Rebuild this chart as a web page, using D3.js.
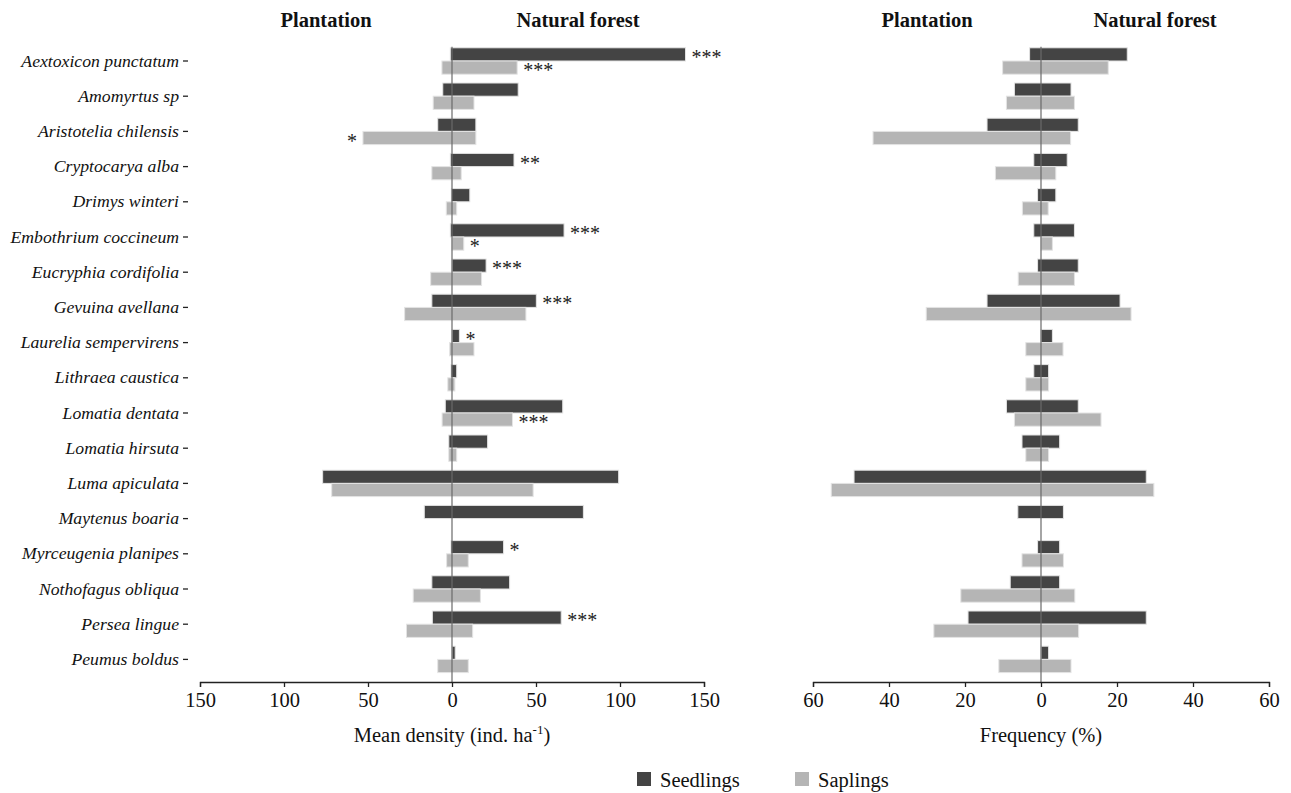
<!DOCTYPE html>
<html><head><meta charset="utf-8">
<script src="https://cdn.jsdelivr.net/npm/d3@7"></script>
<style>body{margin:0;background:#fff}svg{display:block}text{font-family:"Liberation Serif","Times New Roman",serif;fill:#111}</style>
</head><body>
<svg id="c" width="1291" height="793"></svg>
<script>
const categories = ["Aextoxicon punctatum","Amomyrtus sp","Aristotelia chilensis","Cryptocarya alba","Drimys winteri","Embothrium coccineum","Eucryphia cordifolia","Gevuina avellana","Laurelia sempervirens","Lithraea caustica","Lomatia dentata","Lomatia hirsuta","Luma apiculata","Maytenus boaria","Myrceugenia planipes","Nothofagus obliqua","Persea lingue","Peumus boldus"];
const series = ["Seedlings","Saplings"];
// Mean density (ind. ha-1)
const densSeedPlant = [1,5.5,8.5,1,0.4,1,0,12,0,0.6,4,1.9,77,16.5,0.6,12,11.7,0];
const densSeedNat   = [139,39.4,14.2,36.9,10.6,66.7,20.3,50.2,4.4,2.8,65.9,21.2,99.2,78.2,30.7,34.3,65,1.9];
const densSapPlant  = [6,11.2,53,12,3.4,0,12.7,28.2,1.5,2.5,5.9,1.9,71.6,0,3.2,23.1,27.1,8.5];
const densSapNat    = [38.8,13.1,14.2,5.5,2.8,7,17.6,44,13.1,1.7,36,2.8,48.3,0,9.7,16.9,12.3,9.7];
// Frequency (%)
const freqSeedPlant = [3,7,14.2,1.9,0.9,1.9,0.9,14.2,0,1.9,9.1,5,49.2,6.1,0.9,8.1,19.2,0];
const freqSeedNat   = [22.7,7.9,9.8,6.9,3.9,8.8,9.8,20.8,3,2,9.8,4.9,27.7,5.9,4.9,4.9,27.7,2];
const freqSapPlant  = [10.1,9.1,44.2,12,4.9,0,6,30.2,4,4,7,4,55.2,0,5,21.1,28.2,11.1];
const freqSapNat    = [17.7,8.8,7.8,3.9,1.9,3,8.8,23.7,5.8,2,15.8,2,29.7,0,5.9,8.9,9.9,7.9];
// significance marks (density panel)
const sigSeed = ["***","","","**","","***","***","***","*","","","","","","*","","***",""];
const sigSap  = ["***","","*","","","*","","","","","***","","","","","","",""];
const densTicks = [-150,-100,-50,0,50,100,150];
const freqTicks = [-60,-40,-20,0,20,40,60];

const colors = {Seedlings:"#444444", Saplings:"#b5b5b5"};
const svg = d3.select("#c");

const y = d3.scaleBand().domain(categories).range([43.4, 677]).paddingInner(0.25).paddingOuter(0.125);
const ySub = d3.scaleBand().domain(series).range([0, y.bandwidth()]);
const axisY = 682;

function panel(x, ticks, seedP, seedN, sapP, sapN, headers, sig) {
  const g = svg.append("g");
  const rows = [];
  categories.forEach((c,i)=>{
    rows.push({c, s:"Seedlings", p:seedP[i], n:seedN[i], sig: sig ? sig.seed[i] : ""});
    rows.push({c, s:"Saplings", p:sapP[i], n:sapN[i], sig: sig ? sig.sap[i] : ""});
  });
  const shown = rows.filter(r => r.p + r.n > 0);
  g.selectAll("rect.bar").data(shown).join("rect")
    .attr("x", r => x(-r.p))
    .attr("width", r => x(r.n) - x(-r.p))
    .attr("y", r => y(r.c) + ySub(r.s))
    .attr("height", ySub.bandwidth())
    .attr("fill", r => colors[r.s])
    .attr("stroke", "#e4e4e4").attr("stroke-width", 1);
  g.append("line").attr("x1", x(0)).attr("x2", x(0))
    .attr("y1", y(categories[0]) - 1).attr("y2", axisY)
    .attr("stroke", "#6a6a6a").attr("stroke-width", 1.2);
  g.selectAll("text.sig").data(shown.filter(r => r.sig)).join("text")
    .attr("class","sig")
    .attr("x", r => r.p > r.n ? x(-r.p) - 6 : x(r.n) + 6)
    .attr("text-anchor", r => r.p > r.n ? "end" : "start")
    .attr("y", r => y(r.c) + ySub(r.s) + ySub.bandwidth()/2 + 9.5)
    .style("font-size","20px").style("fill","#222")
    .text(r => r.sig);
  const ax = g.append("g").attr("transform", `translate(0,${axisY})`)
    .call(d3.axisBottom(x).tickValues(ticks).tickSizeOuter(0).tickSize(5).tickPadding(5).tickFormat(d => Math.abs(d)));
  ax.select(".domain").attr("stroke","#222").attr("stroke-width",1.3);
  ax.selectAll(".tick line").attr("stroke","#222").attr("stroke-width",1.3);
  ax.selectAll(".tick text").style("font-size","20.5px").style("font-family","Liberation Serif").attr("fill","#111");
  headers.forEach(h => {
    g.append("text").attr("x", x(h.v)).attr("y", 26.5).attr("text-anchor","middle")
      .style("font-size","20.5px").style("font-weight","bold").text(h.t);
  });
  return g;
}

const xd = d3.scaleLinear().domain([-150,150]).range([200, 704]);
panel(xd, densTicks, densSeedPlant, densSeedNat, densSapPlant, densSapNat,
  [{t:"Plantation", v:-75},{t:"Natural forest", v:75}], {seed:sigSeed, sap:sigSap});
const xf = d3.scaleLinear().domain([-60,60]).range([813, 1269]);
panel(xf, freqTicks, freqSeedPlant, freqSeedNat, freqSapPlant, freqSapNat,
  [{t:"Plantation", v:-30},{t:"Natural forest", v:30}], null);

const yAxisG = svg.append("g").attr("transform","translate(188,0)")
  .call(d3.axisLeft(y).tickSize(5).tickPadding(4));
yAxisG.select(".domain").remove();
yAxisG.selectAll(".tick line").attr("stroke","#222").attr("stroke-width",1.3);
yAxisG.selectAll(".tick text").style("font-size","17.7px").style("font-style","italic").style("font-family","Liberation Serif").attr("fill","#111");

const t1 = svg.append("text").attr("x", xd(0)).attr("y", 742).attr("text-anchor","middle").style("font-size","20.5px");
t1.append("tspan").text("Mean density (ind. ha");
t1.append("tspan").attr("dy",-8).style("font-size","13px").text("-1");
t1.append("tspan").attr("dy",8).text(")");
svg.append("text").attr("x", xf(0)).attr("y", 742).attr("text-anchor","middle").style("font-size","20.5px").text("Frequency (%)");

const leg = svg.append("g");
const legX = d3.scaleOrdinal().domain(series).range([637, 795]);
series.forEach(s=>{
  leg.append("rect").attr("x", legX(s)).attr("y", 772).attr("width", 14).attr("height", 14).attr("fill", colors[s]);
  leg.append("text").attr("x", legX(s) + 23).attr("y", 787).style("font-size","20.5px").text(s);
});
</script>
</body></html>
